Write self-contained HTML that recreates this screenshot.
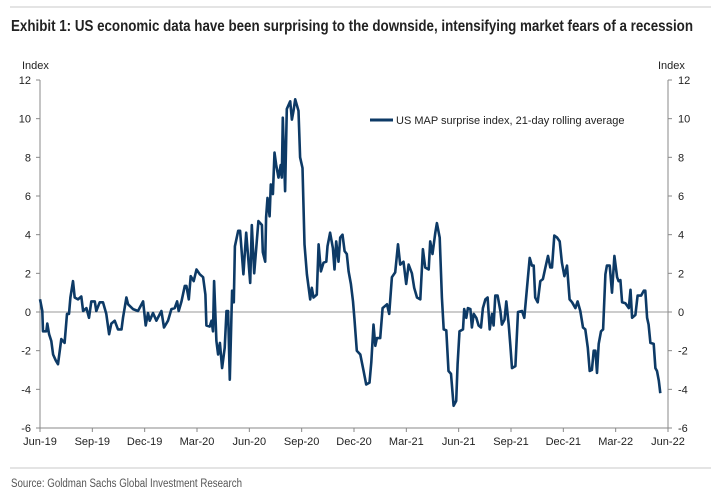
<!DOCTYPE html>
<html><head><meta charset="utf-8"><style>
html,body{margin:0;padding:0;background:#fff;}
svg{display:block;font-family:"Liberation Sans",Arial,sans-serif;}
</style></head><body>
<svg id="chart" width="711" height="496" viewBox="0 0 711 496">
<line x1="10" y1="7" x2="711" y2="7" stroke="#c8c8c8" stroke-width="1"/>
<text x="11" y="31" font-size="15.5" font-weight="bold" fill="#222" textLength="682" lengthAdjust="spacingAndGlyphs">Exhibit 1: US economic data have been surprising to the downside, intensifying market fears of a recession</text>
<text x="22" y="69" font-size="11" fill="#222">Index</text>
<text x="658" y="69" font-size="11" fill="#222">Index</text>
<g id="axes"></g>
<g id="series"></g>
<line x1="370" y1="120" x2="393" y2="120" stroke="#0d3a66" stroke-width="3"/>
<text x="396" y="124" font-size="11" fill="#222">US MAP surprise index, 21-day rolling average</text>
<line x1="10" y1="468" x2="711" y2="468" stroke="#c8c8c8" stroke-width="1"/>
<text x="11" y="487" font-size="11.5" fill="#555" textLength="231" lengthAdjust="spacingAndGlyphs">Source: Goldman Sachs Global Investment Research</text>
</svg>
<script>
const xTickLabels=["Jun-19","Sep-19","Dec-19","Mar-20","Jun-20","Sep-20","Dec-20","Mar-21","Jun-21","Sep-21","Dec-21","Mar-22","Jun-22"];
const yTicks=[12,10,8,6,4,2,0,-2,-4,-6];
const months=[0.00,0.13,0.17,0.36,0.42,0.52,0.65,0.75,0.90,1.03,1.22,1.41,1.55,1.66,1.74,1.89,1.99,2.18,2.37,2.47,2.66,2.81,2.94,3.14,3.23,3.42,3.61,3.80,3.96,4.09,4.28,4.47,4.67,4.76,4.95,5.05,5.33,5.62,5.91,6.06,6.19,6.29,6.48,6.67,6.96,7.11,7.34,7.53,7.72,7.86,7.95,8.11,8.30,8.39,8.53,8.64,8.81,8.97,9.16,9.35,9.48,9.54,9.73,9.83,9.92,9.98,10.11,10.21,10.31,10.44,10.59,10.69,10.78,10.88,11.01,11.11,11.17,11.36,
11.47,11.66,11.82,12.05,12.14,12.28,12.52,12.72,12.77,12.91,12.96,13.04,13.16,13.23,13.35,13.44,13.54,13.67,13.80,13.86,13.92,14.05,14.15,14.34,14.44,14.53,14.63,14.82,14.91,15.05,15.16,15.30,15.49,15.58,15.68,15.87,15.97,16.10,16.25,16.41,16.48,16.63,16.79,16.88,16.98,17.11,17.21,17.34,17.46,17.59,17.69,17.82,17.94,18.03,18.16,18.36,18.55,18.70,18.89,18.99,19.12,19.22,19.31,19.50,19.64,19.89,20.02,20.17,20.36,20.52,20.65,20.84,20.99,21.13,21.32,21.45,21.61,21.80,21.95,22.08,22.28,22.37,22.50,22.66,22.75,22.91,23.04,23.14,23.29,23.42,23.56,
23.71,23.86,23.94,24.05,24.25,24.32,24.44,24.53,24.67,24.76,24.86,25.01,25.14,25.28,25.39,25.53,25.66,25.78,25.91,26.00,26.10,26.23,26.39,26.48,26.63,26.73,26.87,26.96,27.06,27.25,27.40,27.63,27.76,27.95,28.07,28.20,28.30,28.39,28.53,28.68,28.83,28.97,29.12,29.25,29.35,29.48,29.64,29.79,29.92,30.06,30.21,30.36,30.50,30.69,30.82,30.97,31.13,31.26,31.40,31.51,31.64,31.74,31.84,31.93,32.03,32.16,32.28,32.41,32.50,32.66,32.79,32.93,33.08,33.17,33.27,33.37,33.56,33.75,33.85,33.94,34.13,34.26,34.46,34.61,34.70,34.80,34.89,34.99,35.18,35.28,35.37,35.47,35.56];
const values=[0.66,0.05,-1.0,-1.0,-0.6,-1.15,-1.5,-2.2,-2.5,-2.7,-1.4,-1.6,-0.1,-0.1,0.75,1.6,0.75,0.65,0.8,0.05,0.2,-0.3,0.55,0.55,0.05,0.5,0.5,-0.1,-1.15,-0.6,-0.45,-0.9,-0.9,-0.3,0.75,0.4,0.15,0.05,0.55,-0.7,-0.05,-0.45,-0.05,-0.45,0.05,-0.8,-0.45,0.15,0.2,0.55,0.05,0.55,1.35,1.35,0.65,1.85,1.6,2.2,1.95,1.8,0.9,-0.7,-0.75,-0.45,-1.0,1.6,-1.5,-2.2,-1.6,-2.9,-1.85,0.05,0.05,-3.5,1.1,0.5,3.4,4.2,
4.2,1.95,4.1,1.5,4.5,2.0,4.7,4.5,3.1,2.6,4.9,5.9,4.95,6.6,6.1,8.25,7.6,6.95,7.6,6.95,10.05,6.25,10.5,10.9,9.95,10.4,11.0,10.4,8.0,7.45,3.5,1.95,0.65,1.25,0.75,0.9,3.5,2.1,2.55,2.6,3.4,4.1,3.3,2.2,3.65,2.6,3.85,4.0,3.15,3.0,2.1,1.45,0.55,-0.4,-2.0,-2.2,-3.05,-3.75,-3.65,-2.6,-0.65,-1.75,-1.35,-1.35,0.2,0.4,-0.1,1.8,2.05,3.5,2.45,2.6,1.45,2.45,2.0,1.25,0.75,0.65,3.25,2.3,2.2,3.65,3.0,4.1,4.6,3.85,0.75,-0.9,-0.95,-3.05,-3.2,
-4.85,-4.6,-2.7,-1.0,-0.9,0.15,-0.3,0.2,0.15,-0.8,-0.1,-0.3,-0.7,-0.8,0.2,0.65,0.75,-0.9,-0.1,-0.7,0.85,0.85,0.05,-0.65,-0.4,0.55,-0.65,-1.7,-2.9,-2.8,0.0,0.05,-0.3,1.6,2.8,2.4,2.4,0.75,0.5,1.6,1.7,2.3,2.9,2.3,2.3,3.95,3.85,3.65,2.55,1.85,2.4,0.65,0.5,0.2,0.55,0.05,-0.8,-0.9,-1.85,-3.05,-3.0,-2.0,-2.0,-3.15,-1.65,-1.0,-0.9,1.95,2.4,2.4,1.0,2.9,1.8,1.6,1.65,0.5,0.45,0.2,1.15,-0.3,-0.15,0.85,0.85,1.1,1.1,-0.3,-0.65,-1.6,-1.65,-2.9,-3.05,-3.55,-4.2];

const NS="http://www.w3.org/2000/svg";
const L=40,R=668,T=80,B=428,yMin=-6,yMax=12,mMax=36;
function xScale(m){return L+(m/mMax)*(R-L);}
function yScale(v){return B-(v-yMin)/(yMax-yMin)*(B-T);}
function mk(tag,attrs,parent){const e=document.createElementNS(NS,tag);for(const k in attrs)e.setAttribute(k,attrs[k]);parent.appendChild(e);return e;}
const ax=document.getElementById('axes');
let e;
e=mk('line',{x1:L,y1:T,x2:L,y2:B,stroke:'#888','stroke-width':1},ax);


e=mk('line',{x1:R,y1:T,x2:R,y2:B,stroke:'#888','stroke-width':1},ax);


e=mk('line',{x1:L,y1:B,x2:R,y2:B,stroke:'#888','stroke-width':1},ax);


e=mk('line',{x1:L,y1:yScale(0),x2:R,y2:yScale(0),stroke:'#999','stroke-width':1},ax);


yTicks.forEach(v=>{
  const y=yScale(v);
  mk('line',{x1:L-4,y1:y,x2:L,y2:y,stroke:'#888'},ax);
  mk('line',{x1:R,y1:y,x2:R+4,y2:y,stroke:'#888'},ax);
  e=mk('text',{x:L-9,y:y+4,'font-size':11,'text-anchor':'end',fill:'#222'},ax);
  e.textContent=v;
  
  
  e=mk('text',{x:R+10,y:y+4,'font-size':11,'text-anchor':'start',fill:'#222'},ax);
  e.textContent=v;
  
  
});
xTickLabels.forEach((lab,i)=>{
  const x=xScale(i*3);
  mk('line',{x1:x,y1:B,x2:x,y2:B+4,stroke:'#888'},ax);
  e=mk('text',{x:x,y:445,'font-size':11,'text-anchor':'middle',fill:'#222'},ax);
  e.textContent=lab;
  
  
});
const d=months.map((m,i)=>(i?'L':'M')+xScale(m).toFixed(1)+','+yScale(values[i]).toFixed(1)).join('');
e=mk('path',{d:d,fill:'none',stroke:'#0d3a66','stroke-width':2.6,'stroke-linejoin':'round'},document.getElementById('series'));


</script>
</body></html>
